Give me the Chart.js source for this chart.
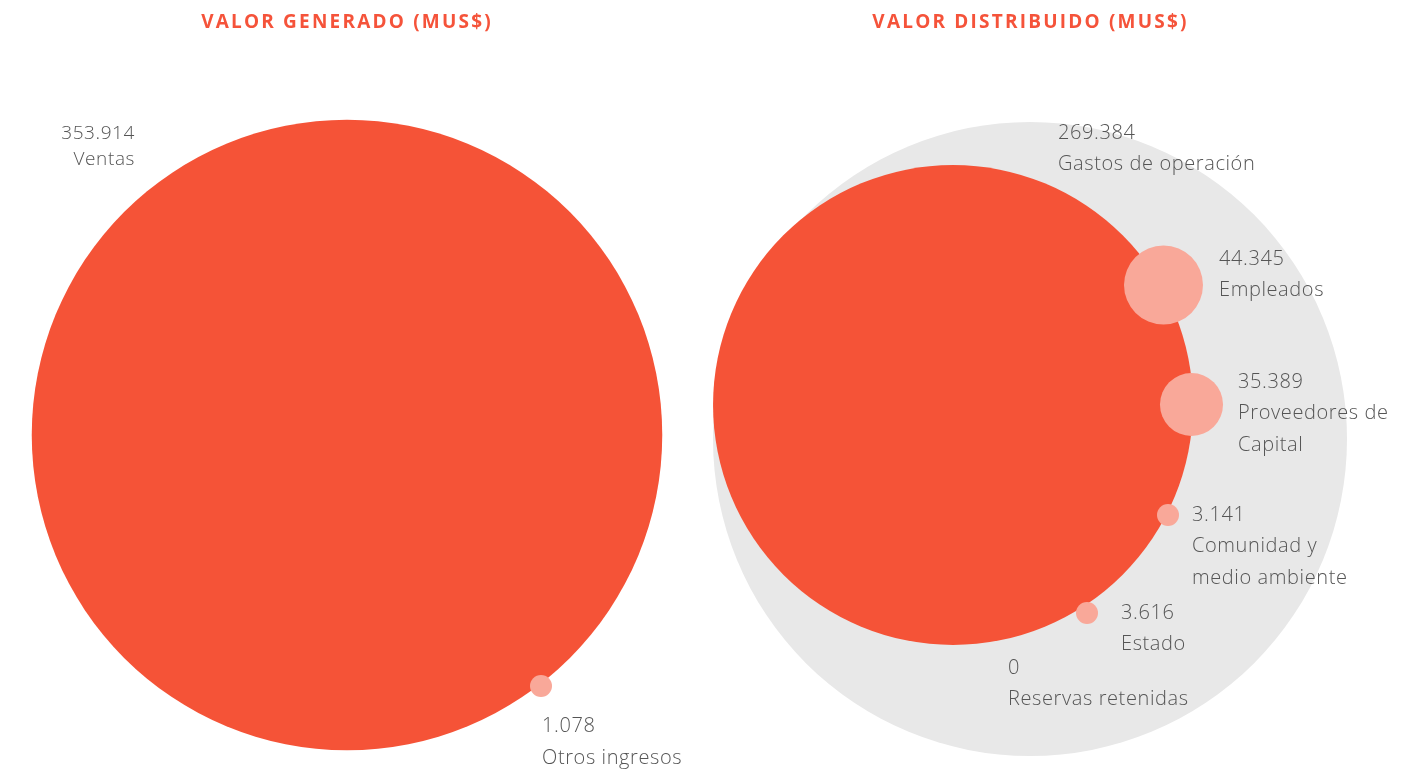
<!DOCTYPE html>
<html>
<head>
<meta charset="utf-8">
<script src="https://cdn.jsdelivr.net/npm/chart.js@4.4.1/dist/chart.umd.min.js"></script>
<style>
  html, body { margin: 0; padding: 0; background: #fff; }
  body { width: 1421px; height: 770px; position: relative; overflow: hidden; font-family: "Open Sans", sans-serif; }
  .panel { position: absolute; top: 0; height: 770px; }
  .title {
    position: absolute; top: 8px; text-align: center;
    color: #f5533a; font-weight: 700; font-size: 19px; letter-spacing: 2.2px;
    font-family: "Open Sans", sans-serif; z-index: 2;
  }
</style>
</head>
<body>
<div class="panel" id="left" style="left:0;width:700px">
  <canvas id="chart-gen"></canvas>
</div>
<div class="panel" id="right" style="left:700px;width:721px">
  <canvas id="chart-dist"></canvas>
</div>
<div class="title" style="left:0;width:694px">VALOR GENERADO (MUS$)</div>
<div class="title" style="left:700px;width:661px">VALOR DISTRIBUIDO (MUS$)</div>

<script>
// Valor generado
const genNames = [["Ventas"], ["Otros ingresos"]];
const genValues = [353914, 1078];
const genX = [347, 541];
const genY = [435, 686];

// Valor distribuido
const distNames = [
  ["Gastos de operación"],
  ["Empleados"],
  ["Proveedores de", "Capital"],
  ["Comunidad y", "medio ambiente"],
  ["Estado"],
  ["Reservas retenidas"]
];
const distValues = [269384, 44345, 35389, 3141, 3616, 0];
const distX = [253, 463.5, 491.5, 468, 387, 330];
const distY = [405, 285, 404.5, 515, 613, 640];
const distTotal = distValues.reduce((a, b) => a + b, 0);
const totalX = 330;
const totalY = 439;

// donde va cada etiqueta (en unidades del panel)
const genLabelX = [135, 542];
const genLabelY = [134, 726];
const genAlign = ["right", "left"];
const genLineGap = [26, 32];
const genFontSize = [19, 20];
const distLabelX = [358, 519, 538, 492, 421, 308];
const distLabelY = [133, 259, 382, 515, 613, 668];

const RED = "#f55337";
const PINK = "#f9a899";
const GRAY = "#e8e8e8";
const PX_PER_UNIT = 317 / distTotal;
const MIN_R = 11;

const fmt = v => String(v).replace(/\B(?=(\d{3})+(?!\d))/g, ".");
const radius = v => v === 0 ? 0 : Math.max(v * PX_PER_UNIT, MIN_R);

// bubble sin el margen automático del radio mayor, así el área cubre todo el panel
class PanelBubble extends Chart.BubbleController {
  getMaxOverflow() { return 0; }
}
PanelBubble.id = "panelBubble";
PanelBubble.defaults = Chart.BubbleController.defaults;
Chart.register(PanelBubble);

const labelPlugin = {
  id: "bubbleLabels",
  afterDatasetsDraw(chart, args, opts) {
    const { ctx, scales } = chart;
    ctx.save();
    ctx.fillStyle = "#555";
    ctx.textBaseline = "middle";
    ctx.letterSpacing = "0.6px";
    opts.values.forEach((v, i) => {
      const x = scales.x.getPixelForValue(opts.x[i]);
      let y = scales.y.getPixelForValue(opts.y[i]);
      const gap = opts.gap[i];
      ctx.font = `300 ${opts.size[i]}px 'Open Sans'`;
      ctx.textAlign = opts.align[i];
      ctx.fillText(fmt(v), x, y);
      opts.names[i].forEach(line => {
        y += gap;
        ctx.fillText(line, x, y);
      });
    });
    ctx.restore();
  }
};

function bubbleOptions(width, labels) {
  return {
    responsive: false,
    animation: false,
    events: [],
    layout: { padding: 0 },
    plugins: {
      legend: { display: false },
      tooltip: { enabled: false },
      bubbleLabels: labels
    },
    scales: {
      x: { type: "linear", display: false, min: 0, max: width },
      y: { type: "linear", display: false, min: 0, max: 770, reverse: true }
    }
  };
}

function makeCanvas(id, w) {
  const c = document.getElementById(id);
  c.width = w; c.height = 770;
  c.style.width = w + "px"; c.style.height = "770px";
  return c;
}

new Chart(makeCanvas("chart-gen", 700), {
  type: "panelBubble",
  data: {
    datasets: [{
      data: genValues.map((v, i) => ({ x: genX[i], y: genY[i], r: radius(v) })),
      backgroundColor: genValues.map((v, i) => i === 0 ? RED : PINK),
      borderWidth: 0,
      hoverRadius: 0,
      clip: false
    }]
  },
  options: bubbleOptions(700, {
    values: genValues, names: genNames, x: genLabelX, y: genLabelY,
    align: genAlign, gap: genLineGap, size: genFontSize
  }),
  plugins: [labelPlugin]
});

new Chart(makeCanvas("chart-dist", 721), {
  type: "panelBubble",
  data: {
    datasets: [
      {
        data: distValues.map((v, i) => ({ x: distX[i], y: distY[i], r: radius(v) })),
        backgroundColor: distValues.map((v, i) => i === 0 ? RED : PINK),
        borderWidth: 0,
        hoverRadius: 0,
        clip: false
      },
      {
        data: [{ x: totalX, y: totalY, r: radius(distTotal) }],
        backgroundColor: GRAY,
        borderWidth: 0,
        hoverRadius: 0,
        clip: false
      }
    ]
  },
  options: bubbleOptions(721, {
    values: distValues, names: distNames, x: distLabelX, y: distLabelY,
    align: distValues.map(() => "left"), gap: distValues.map(() => 31.5),
    size: distValues.map(() => 20)
  }),
  plugins: [labelPlugin]
});
</script>
</body>
</html>
